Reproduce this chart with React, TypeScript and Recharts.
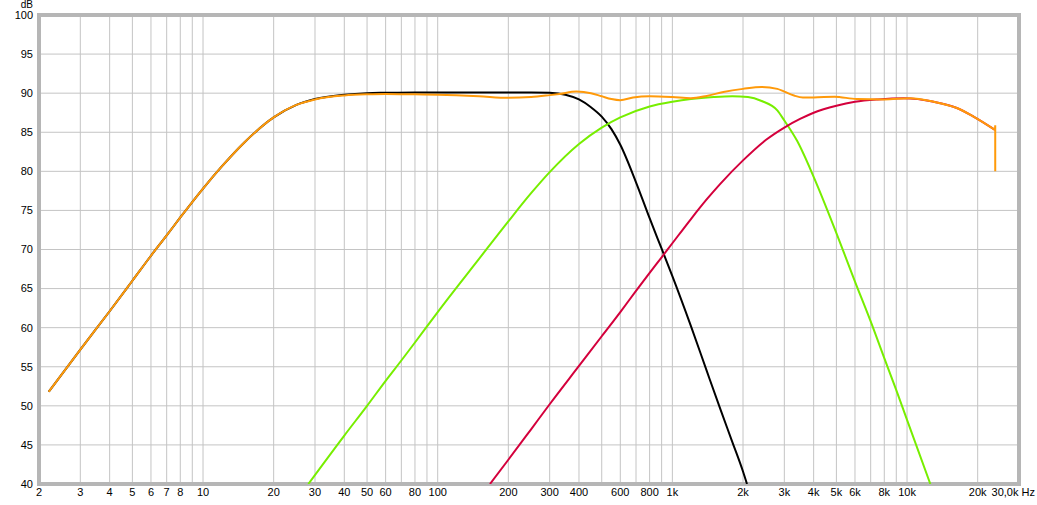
import React from 'react';
import { LineChart, Line, XAxis, YAxis, CartesianGrid, ReferenceArea } from 'recharts';

// frequency (Hz) / level (dB)
const wooferFreq = [2.2, 3, 4, 5, 6, 7, 8, 10, 12, 15, 20, 25, 30, 40, 50, 60, 80, 100, 150, 200, 250, 300, 350, 400, 450, 500, 550, 600, 700, 800, 900, 1000, 1200, 1400, 1600, 1800, 2000, 2080];
const wooferDb = [51.8, 57.2, 62.1, 66.0, 69.2, 71.8, 74.1, 77.8, 80.6, 83.7, 86.9, 88.5, 89.25, 89.8, 90.0, 90.05, 90.1, 90.1, 90.1, 90.1, 90.1, 90.05, 89.8, 89.2, 88.2, 87.0, 85.4, 83.4, 78.6, 74.0, 70.1, 66.6, 60.2, 54.5, 49.6, 45.4, 41.6, 40.0];

const midFreq = [28.1, 40, 50, 60, 70, 80, 100, 150, 200, 250, 300, 400, 500, 600, 800, 1000, 1200, 1500, 1800, 2100, 2400, 2800, 3000, 3400, 4000, 5000, 6000, 7000, 8000, 9000, 10000, 12570];
const midDb = [40.0, 46.2, 50.0, 53.2, 55.8, 58.1, 62.0, 68.8, 73.6, 77.2, 79.9, 83.5, 85.6, 86.9, 88.3, 88.9, 89.25, 89.5, 89.6, 89.5, 89.0, 87.8, 86.5, 83.9, 79.3, 72.1, 65.9, 60.8, 56.1, 52.0, 48.2, 40.0];

const tweeterFreq = [167, 200, 250, 300, 400, 500, 600, 700, 800, 900, 1000, 1200, 1400, 1600, 2000, 2500, 3000, 3500, 4000, 5000, 6000, 7500, 9700, 13000, 16300, 19200, 23700];
const tweeterDb = [40.0, 43.1, 47.0, 50.2, 55.1, 58.9, 62.0, 64.7, 67.0, 69.0, 70.8, 73.9, 76.4, 78.4, 81.4, 84.0, 85.6, 86.7, 87.5, 88.4, 88.9, 89.2, 89.35, 88.9, 88.1, 87.0, 85.3];

const sumFreq = [2.2, 3, 4, 5, 6, 7, 8, 10, 12, 15, 20, 25, 30, 40, 50, 60, 80, 100, 150, 200, 250, 300, 330, 390, 450, 500, 550, 600, 680, 800, 1000, 1200, 1400, 1650, 2000, 2400, 2800, 3000, 3300, 3600, 4000, 4900, 6100, 8000, 10300, 13000, 16300, 19200, 23700];
const sumDb = [51.8, 57.2, 62.1, 66.0, 69.2, 71.8, 74.1, 77.8, 80.6, 83.7, 86.9, 88.5, 89.2, 89.7, 89.85, 89.9, 89.85, 89.8, 89.6, 89.4, 89.5, 89.75, 89.9, 90.2, 90.0, 89.6, 89.25, 89.1, 89.45, 89.6, 89.5, 89.35, 89.65, 90.15, 90.55, 90.8, 90.55, 90.2, 89.7, 89.45, 89.45, 89.55, 89.25, 89.2, 89.35, 88.9, 88.1, 87.0, 85.3];
// the little spike where the sum trace ends
const sumTailFreq = [23700, 23760, 23760];
const sumTailDb = [85.3, 85.9, 80.0];

const xTicks = [2, 3, 4, 5, 6, 7, 8, 9, 10, 20, 30, 40, 50, 60, 70, 80, 90, 100, 200, 300, 400, 500, 600, 700, 800, 900, 1000, 2000, 3000, 4000, 5000, 6000, 7000, 8000, 9000, 10000, 20000, 30000];
const xTickLabels = ['2', '3', '4', '5', '6', '7', '8', '', '10', '20', '30', '40', '50', '60', '', '80', '', '100', '200', '300', '400', '', '600', '', '800', '', '1k', '2k', '3k', '4k', '5k', '6k', '', '8k', '', '10k', '20k', '30,0k Hz'];
const yTicks = [40, 45, 50, 55, 60, 65, 70, 75, 80, 85, 90, 95, 100];

const FONT = '"Liberation Sans", Arial, sans-serif';

const toPoints = (freq: number[], db: number[]) => freq.map((f, i) => ({ f, db: db[i] }));

const XTick = (props: any) => {
  const { x, y, payload } = props;
  const idx = xTicks.indexOf(payload.value);
  const label = idx >= 0 ? xTickLabels[idx] : '';
  if (!label) return <g />;
  const last = payload.value === 30000;
  return (
    <text
      x={last ? x + 16 : x}
      y={y}
      dy="0.71em"
      textAnchor={last ? 'end' : 'middle'}
      fontSize={11}
      fontFamily={FONT}
      fill="#000"
    >
      {label}
    </text>
  );
};

export default function App() {
  return (
    <div style={{ position: 'absolute', left: 0, top: 0, background: '#fff' }}>
      <LineChart width={1037} height={505} margin={{ top: 15, right: 18, bottom: 0, left: 0 }}>
        <CartesianGrid stroke="#c4c4c4" strokeWidth={1} />
        <XAxis
          dataKey="f"
          type="number"
          scale="log"
          domain={[2, 30000]}
          allowDataOverflow
          ticks={xTicks}
          interval={0}
          height={21}
          tickSize={2}
          tickMargin={2}
          tickLine={false}
          axisLine={false}
          tick={<XTick />}
        />
        <YAxis
          type="number"
          domain={[40, 100]}
          allowDataOverflow
          ticks={yTicks}
          interval={0}
          width={39}
          tickSize={4}
          tickMargin={2}
          tickLine={false}
          axisLine={false}
          tick={{ fontSize: 11, fill: '#000', fontFamily: FONT }}
        />
        <ReferenceArea x1={2} x2={30000} y1={40} y2={100} fill="none" stroke="#b6b6b6" strokeWidth={4} />
        <Line data={toPoints(wooferFreq, wooferDb)} dataKey="db" type="monotone" stroke="#000000" strokeWidth={2} dot={false} activeDot={false} isAnimationActive={false} />
        <Line data={toPoints(midFreq, midDb)} dataKey="db" type="monotone" stroke="#77ee00" strokeWidth={2} dot={false} activeDot={false} isAnimationActive={false} />
        <Line data={toPoints(tweeterFreq, tweeterDb)} dataKey="db" type="monotone" stroke="#d4003c" strokeWidth={2} dot={false} activeDot={false} isAnimationActive={false} />
        <Line data={toPoints(sumFreq, sumDb)} dataKey="db" type="monotone" stroke="#ff9a0a" strokeWidth={2} dot={false} activeDot={false} isAnimationActive={false} />
        <Line data={toPoints(sumTailFreq, sumTailDb)} dataKey="db" type="linear" stroke="#ff9a0a" strokeWidth={2} dot={false} activeDot={false} isAnimationActive={false} />
        <text x={33} y={8} textAnchor="end" fontSize={10} fontFamily={FONT} fill="#000">dB</text>
      </LineChart>
    </div>
  );
}
